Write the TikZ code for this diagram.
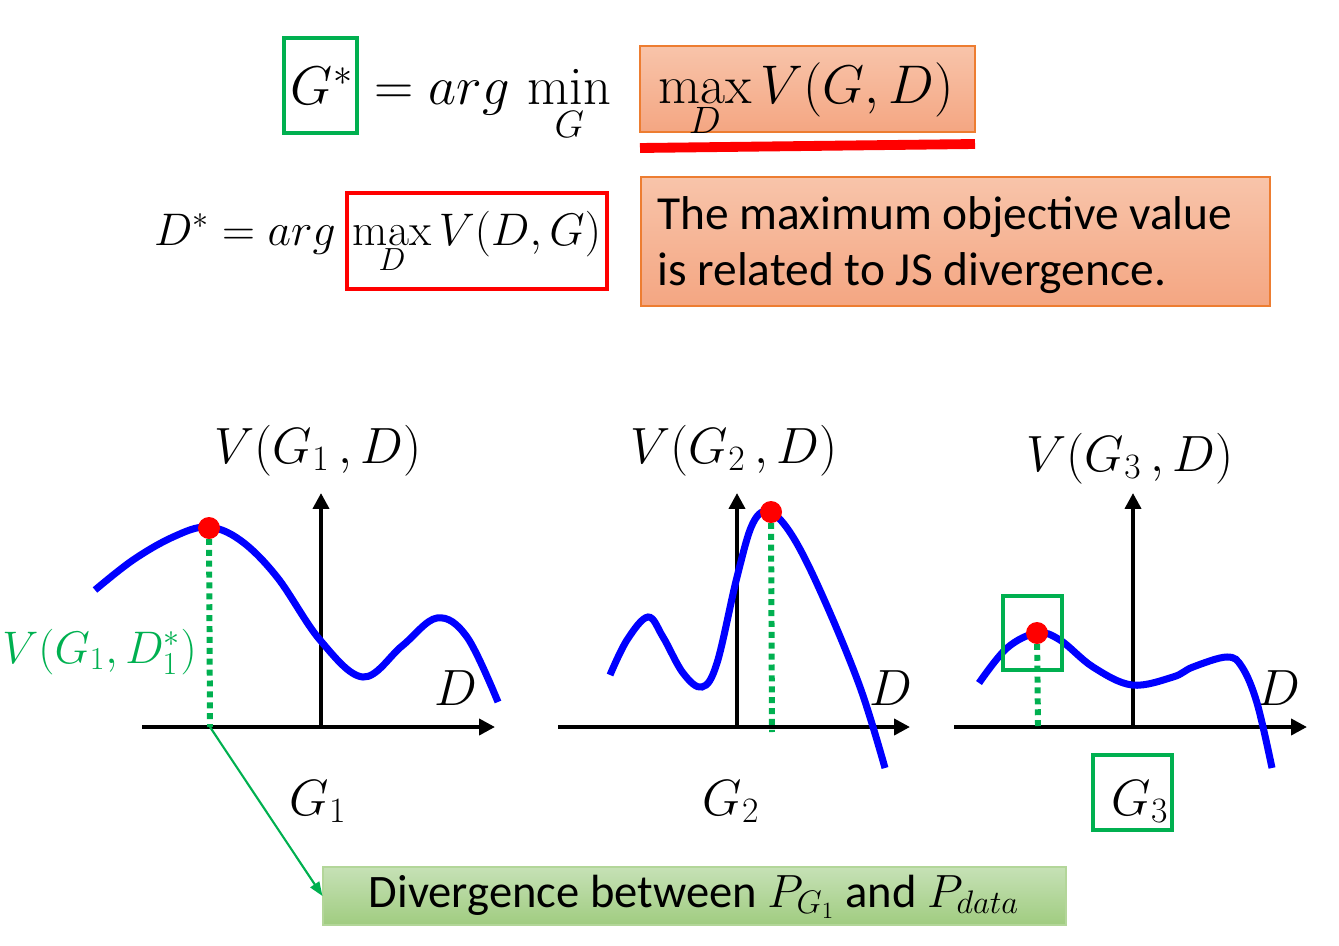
\RequirePackage{fix-cm}
\documentclass[tikz,border=0pt]{standalone}
\usepackage{fontspec}
\newfontfamily\calibri{Carlito}
\usepackage{tikz}
\usetikzlibrary{arrows.meta}
\usetikzlibrary{positioning}
\tikzset{>=latex}
\usepackage{xcolor}
\definecolor{mygreen}{RGB}{0,176,80}
\definecolor{myblue}{RGB}{0,0,255}
\definecolor{myorange}{RGB}{237,125,49}
\definecolor{peachtop}{RGB}{248,196,170}
\definecolor{peachbot}{RGB}{244,166,130}
\definecolor{leaftop}{RGB}{198,225,182}
\definecolor{leafbot}{RGB}{160,204,128}
\def\px{0.02cm}
\def\lowsub{\rule{0pt}{0.55em}}
\newcommand\sizetop{\fontsize{31}{37}\selectfont}
\newcommand\sizemid{\fontsize{26}{31}\selectfont}
\newcommand\sizeplot{\fontsize{29}{34}\selectfont}
\newcommand\sizenote{\fontsize{27}{31.5}\selectfont}
\newcommand\sizediv{\fontsize{26.5}{30}\selectfont}
\tikzstyle{curve}=[myblue,line width=4pt]
\tikzstyle{axis}=[line width=2.2pt,-{Triangle[length=9pt,width=9pt]}]
\tikzstyle{dot}=[circle,fill=red,inner sep=0,minimum size=22*\px]
\tikzstyle{drop}=[mygreen,line width=3.4pt,dash pattern=on 3.4pt off 2.8pt]
\tikzstyle{greenframe}=[draw=mygreen,line width=2.8pt,inner sep=0]
\tikzstyle{redframe}=[draw=red,line width=2.8pt,inner sep=0]
\tikzstyle{peachbox}=[draw=myorange,line width=0.6pt,top color=peachtop,bottom color=peachbot,inner sep=0]
\tikzstyle{leafbox}=[draw=leafbot!80!white,line width=0.6pt,top color=leaftop,bottom color=leafbot,inner sep=0]

\begin{document}
\begin{tikzpicture}[x=\px,y=-\px]
	\useasboundingbox (0,0) rectangle (1339,946);
	
	% objective
	\node[greenframe, minimum width=73*\px, minimum height=95*\px] (gbox) at (320.5,85.5) {};
	\node[anchor=base] (gstar) at (322,105) {\sizetop $G^*$};
	\node[anchor=base west] (argmin) at (368,105) {\sizetop $= arg\,\min\limits_{\lowsub G}$};
	\node[peachbox, minimum width=335*\px, minimum height=86*\px] (maxbox) at (807.5,89) {};
	\node[anchor=base] (maxv) at (806,104) {\sizetop $\max\limits_D V(G,D)$};
	\coordinate (ul1) at (640,148);
	\coordinate (ul2) at (975,144);
	\draw[red, line width=5.6pt] (ul1) -- (ul2);
	
	\node[anchor=base west] (dstar) at (148,245) {\sizemid $D^* = arg$};
	\node[redframe, minimum width=260*\px, minimum height=96*\px] (dbox) at (477,241) {};
	\node[anchor=base] (dmax) at (477,245) {\sizemid $\max\limits_D V(D,G)$};
	
	\node[peachbox, minimum width=629*\px, minimum height=129*\px] (note) at (955.5,241.5) {};
	\node[anchor=west, align=left, inner sep=0, font=\calibri\sizenote] (notetext) at (657,245)
		{The maximum objective value\\ is related to JS divergence.};
	
	% axes
	\foreach \i/\xl/\xo/\xr/\vy/\dx/\gx in {1/142/321/495/463/456/318, 2/558/737/910/463/891/731, 3/954/1133/1307/471/1279/1140}{
		\coordinate (xl\i) at (\xl,727);
		\coordinate (o\i) at (\xo,727);
		\coordinate (xr\i) at (\xr,727);
		\coordinate (yt\i) at (\xo,493);
		\draw[axis] (xl\i) -- (xr\i);
		\draw[axis] (o\i) -- (yt\i);
		\node[anchor=base] (vlab\i) at (\xo-3,\vy) {\sizeplot $V(G_\i\,,D)$};
		\node[anchor=base] (dlab\i) at (\dx,705) {\sizeplot $D$};
		\node[anchor=base] (glab\i) at (\gx,815) {\sizeplot $G_\i$};
	}
	
	\draw[curve] plot[smooth,tension=0.6] coordinates {(95,590) (133,560) (173,537) (207,527) (240,540) (277,577) (320,640) (363,677) (402,646) (437,618) (467,637) (498,702)};
	\draw[curve] plot[smooth,tension=0.6] coordinates {(610,675) (627,640) (648,617) (663,637) (683,673) (702,687) (717,663) (737,577) (753,523) (770,512) (793,537) (823,597) (860,687) (885,768)};
	\draw[curve] plot[smooth,tension=0.6] coordinates {(979,683) (1007,648) (1037,633) (1060,640) (1093,667) (1132,685) (1173,677) (1193,667) (1227,657) (1242,667) (1257,703) (1272,768)};
	
	% maxima
	\coordinate (pk1) at (209,528);
	\coordinate (ft1) at (210,727);
	\coordinate (pk2) at (771,512);
	\coordinate (ft2) at (772,732);
	\coordinate (pk3) at (1037,633);
	\coordinate (ft3) at (1038,726);
	\foreach \i in {1,2,3}{
		\draw[drop] (pk\i) -- (ft\i);
		\node[dot] (dot\i) at (pk\i) {};
	}
	
	\node[greenframe, minimum width=59*\px, minimum height=74*\px] (pkbox) at (1032.5,633) {};
	\node[greenframe, minimum width=79*\px, minimum height=75*\px] (g3box) at (1132.5,792.5) {};
	
	\node[anchor=base west, mygreen, inner sep=0] (vstar) at (2,663) {\fontsize{26}{31}\selectfont $V(G_1,D_1^*)$};
	
	\node[leafbox, minimum width=743*\px, minimum height=58*\px] (divbox) at (694.5,896) {};
	\node[anchor=base] (divtext) at (694,907) {\calibri\sizediv Divergence between $P_{G_1}$ and $P_{data}$};
	\draw[mygreen, line width=1.2pt, -{Triangle[length=8pt,width=6pt]}] (ft1) -- (divbox.west);
	
\end{tikzpicture}
\end{document}
